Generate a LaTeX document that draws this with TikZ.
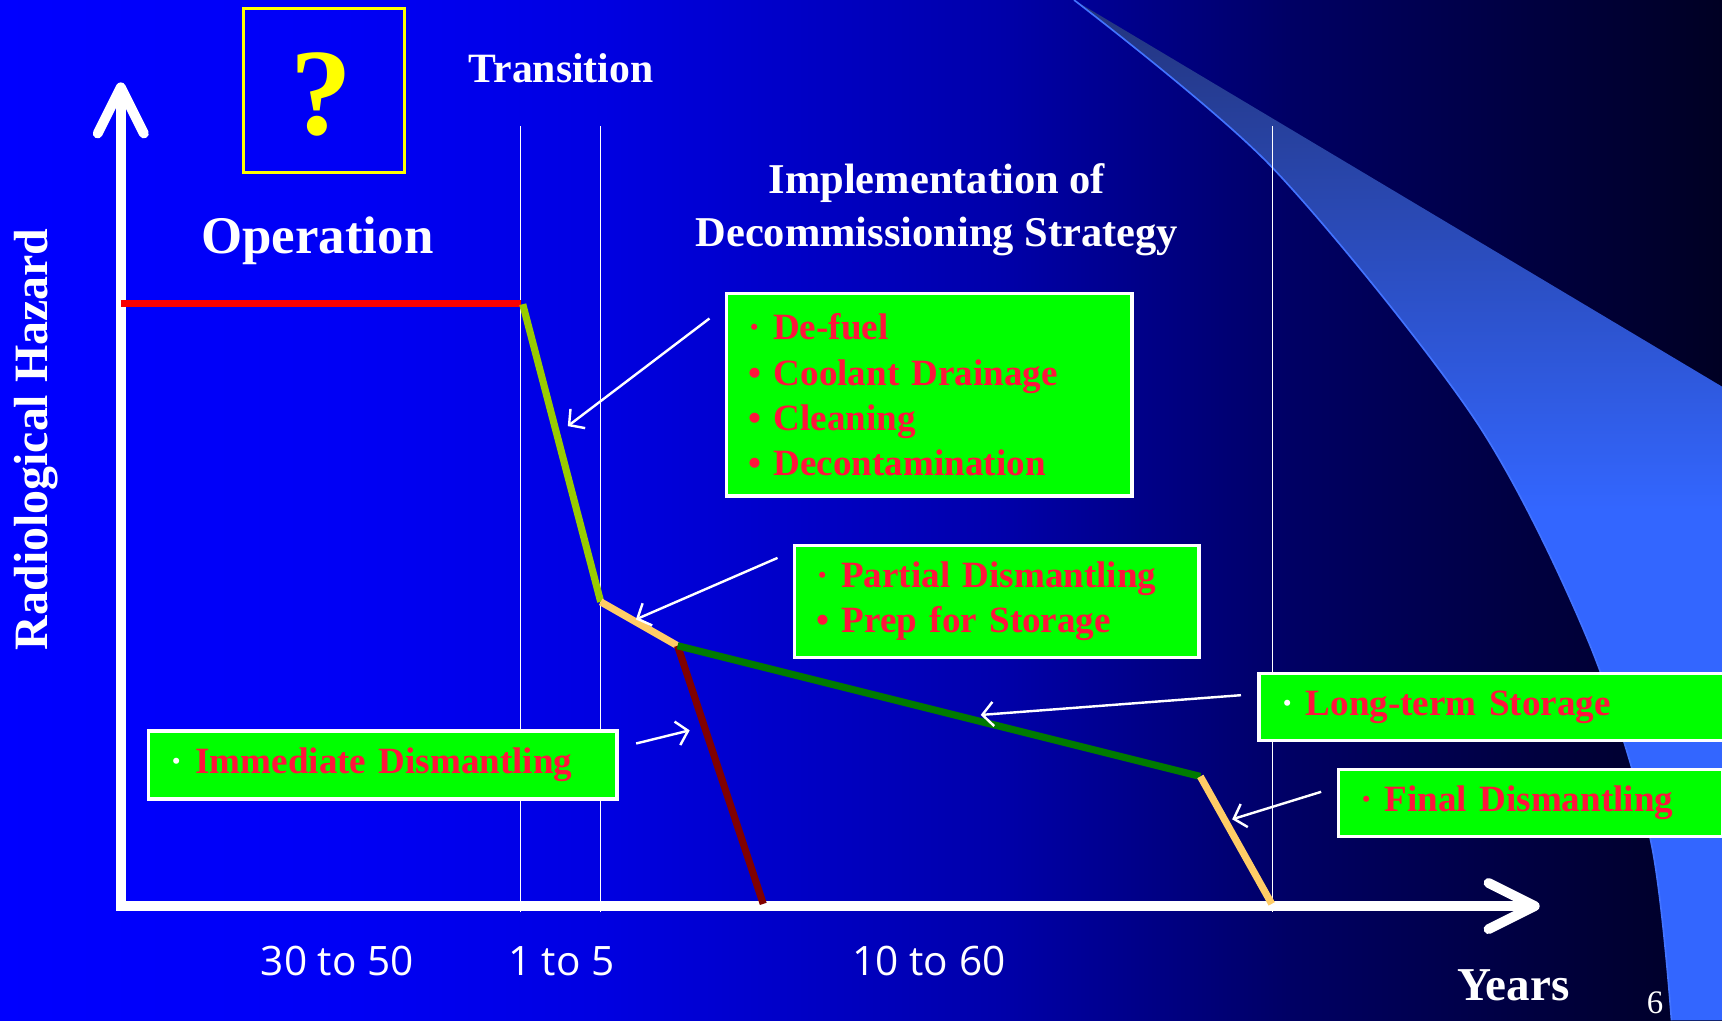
\documentclass[tikz,border=0pt]{standalone}
\usepackage{fontspec}
\setmainfont{Liberation Serif}
\newfontfamily\tickfont{Open Sans}
\usetikzlibrary{calc,arrows.meta}

\definecolor{hazred}{RGB}{255,20,60}
\definecolor{boxgreen}{RGB}{0,255,0}
\definecolor{qyellow}{RGB}{255,255,0}
\definecolor{oprred}{RGB}{250,0,0}
\definecolor{trgreen}{RGB}{153,204,0}
\definecolor{paleorange}{RGB}{255,204,102}
\definecolor{storegreen}{RGB}{0,122,0}
\definecolor{dismred}{RGB}{128,0,0}
\definecolor{bgA}{RGB}{0,0,255}
\definecolor{bgB}{RGB}{0,0,245}
\definecolor{bgC}{RGB}{0,0,225}
\definecolor{bgD}{RGB}{0,0,170}
\definecolor{bgE}{RGB}{0,0,100}
\definecolor{bgF}{RGB}{0,0,35}
\definecolor{swA}{RGB}{35,52,125}
\definecolor{swB}{RGB}{51,102,255}
\definecolor{swedge}{RGB}{66,115,255}

\pgfdeclarehorizontalshading{slidebg}{100bp}{color(0bp)=(bgA); color(25bp)=(bgA);
  color(35bp)=(bgB); color(42.5bp)=(bgC); color(54bp)=(bgD); color(62.5bp)=(bgE);
  color(75bp)=(bgF); color(100bp)=(bgF)}

\tikzset{
  axisline/.style={draw=white, line width=0.09cm, line join=miter},
  axistip/.tip={Straight Barb[length=0.42cm, width=0.42cm, round]},
  hazline/.style={line width=0.065cm},
  phaseline/.style={draw=white, line width=0.012cm},
  hazarrow/.style={draw=white, line width=0.022cm, -{Straight Barb[length=0.1cm, width=0.22cm]}},
  greenbox/.style={draw=white, line width=0.03cm, fill=boxgreen, text=hazred, align=left,
    inner xsep=0.2cm, inner ysep=0pt, anchor=north west,
    font=\bfseries\fontsize{9.6}{11.7}\selectfont},
  heading/.style={text=white, align=center},
  ticklabel/.style={text=white, font=\tickfont\fontsize{10.5}{12}\selectfont}
}

\begin{document}
\begin{tikzpicture}[x=0.01cm, y=-0.01cm]
  \useasboundingbox (0,0) rectangle (1568,929);
  \clip (0,0) rectangle (1568,929);
  \shade[shading=slidebg] (0,0) rectangle (1568,929);
  \shade[top color=swA, bottom color=swB, middle color=swB]
    plot[smooth] coordinates {(978,0) (1158,152) (1343,382) (1446,583) (1503,765) (1522,929)}
    -- (1580,929) -- (1580,358) -- (1568,352) -- cycle;
  \draw[swedge, line width=0.015cm]
    plot[smooth] coordinates {(978,0) (1158,152) (1343,382) (1446,583) (1503,765) (1522,929)};

  \foreach \px in {474,547,1159}
    \draw[phaseline] (\px,115) -- (\px,830);

  \coordinate (origin) at (110,825);
  \coordinate (ytip) at (110,75);
  \coordinate (xtip) at (1402,825);
  \draw[axisline, axistip-axistip] (ytip) -- (origin) -- (xtip);

  \node(qbox) [draw=qyellow, line width=0.025cm, minimum width=1.46cm, minimum height=1.49cm] at (295,82.5) {};
  \node(qmark) [text=qyellow, font=\bfseries\fontsize{32}{32}\selectfont] at (293,86) {?};
  \node(transition) [heading, font=\bfseries\fontsize{10.8}{13}\selectfont] at (511,62) {Transition};
  \node(operation) [heading, font=\bfseries\fontsize{13.7}{16}\selectfont] at (289,219) {Operation};
  \node(strategy) [heading, font=\bfseries\fontsize{11}{13.6}\selectfont] at (853,191)
    {Implementation of\\Decommissioning Strategy};
  \node(hazard) [heading, rotate=90, font=\bfseries\fontsize{12.4}{14}\selectfont] at (33,400) {Radiological Hazard};
  \node(years) [heading, font=\bfseries\fontsize{12.2}{14}\selectfont] at (1378,897) {Years};
  \node(pagenum) [heading, font=\fontsize{8.5}{10}\selectfont] at (1507,913) {6};

  \node(operyears) [ticklabel] at (307,875) {30 to 50};
  \node(transyears) [ticklabel] at (511,875) {1 to 5};
  \node(implyears) [ticklabel] at (846,875) {10 to 60};

  \coordinate (opstart) at (110,276);
  \coordinate (opend) at (474,276);
  \coordinate (shutdown) at (476,277);
  \coordinate (defueled) at (547,548);
  \coordinate (prepared) at (617,588);
  \coordinate (stored) at (1093,707);
  \coordinate (finalend) at (1158,823);
  \coordinate (immedend) at (695,823);
  \draw[hazline, oprred] (opstart) -- (opend);
  \draw[hazline, trgreen] (shutdown) -- (defueled);
  \draw[hazline, paleorange] (defueled) -- (prepared);
  \draw[hazline, dismred] (prepared) -- (immedend);
  \draw[hazline, storegreen] (prepared) -- (stored);
  \draw[hazline, paleorange] (stored) -- (finalend);

  \node(defuel) [greenbox, text width=3.29cm, minimum height=1.84cm] at (660,266)
    {· De-fuel\\• Coolant Drainage\\• Cleaning\\• Decontamination};
  \node(partial) [greenbox, text width=3.28cm, minimum height=1.02cm] at (722,495)
    {· Partial Dismantling\\• Prep for Storage};
  \node(longterm) [greenbox, text width=3.9cm, minimum height=0.61cm] at (1145,612)
    {{\color{white}·} Long-term Storage};
  \node(final) [greenbox, text width=3.1cm, minimum height=0.61cm] at (1217,699)
    {· Final Dismantling};
  \node(immediate) [greenbox, text width=3.86cm, minimum height=0.62cm] at (134,664)
    {{\color{white}·} Immediate Dismantling};

  \coordinate (defuelTip) at (517,388);
  \coordinate (partialTip) at (579,564);
  \coordinate (immedTip) at (628,665);
  \coordinate (storeTip) at (893,651);
  \coordinate (finalTip) at (1122,746);
  \draw[hazarrow] ($(defuel.north west)+(-14,24)$) -- (defuelTip);
  \draw[hazarrow] ($(partial.north west)+(-14,13)$) -- (partialTip);
  \draw[hazarrow] ($(immediate.north east)+(16,13)$) -- (immedTip);
  \draw[hazarrow] ($(longterm.north west)+(-15,21)$) -- (storeTip);
  \draw[hazarrow] ($(final.north west)+(-14,22)$) -- (finalTip);
\end{tikzpicture}
\end{document}
